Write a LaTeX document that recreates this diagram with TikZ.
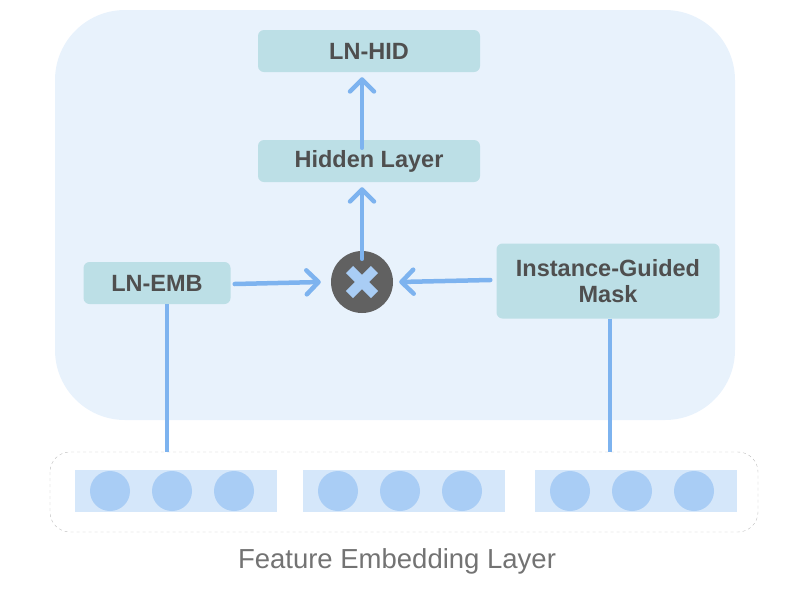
\documentclass[tikz,border=0pt]{standalone}
\usepackage{fontspec}
\setmainfont{Liberation Sans}
\usepackage{tikz}
\usetikzlibrary{shapes,arrows,arrows.meta}
\definecolor{bgblue}{HTML}{E8F2FC}
\definecolor{boxteal}{HTML}{BCDFE6}
\definecolor{linkblue}{HTML}{7DB3EF}
\definecolor{cellblue}{HTML}{D5E7FA}
\definecolor{dotblue}{HTML}{A9CDF5}
\definecolor{txtgray}{HTML}{4F4F4F}
\tikzstyle{layerbox} = [rectangle, rounded corners=6pt, fill=boxteal, text=txtgray, font=\fontsize{23.5}{26}\selectfont\bfseries, align=center, inner sep=0pt]
\tikzstyle{link} = [draw=linkblue, line width=4.5pt, line cap=round, -{Straight Barb[length=12pt,width=24pt,line width=4.5pt,round]}]
\tikzstyle{plainlink} = [draw=linkblue, line width=4.5pt]
\tikzstyle{cell} = [rectangle, fill=cellblue, minimum width=202pt, minimum height=42pt, inner sep=0pt]
\tikzstyle{dot} = [circle, fill=dotblue, minimum size=40pt, inner sep=0pt]
\begin{document}
\begin{tikzpicture}[x=1pt, y=-1pt]
\useasboundingbox (0,0) rectangle (788,590);
% background panel
\fill[bgblue, rounded corners=70pt] (55,10) rectangle (735,420);
% boxes of the block
\node [layerbox, minimum width=222pt, minimum height=42pt] (lnhid) at (369,51) {LN-HID};
\node [layerbox, minimum width=222pt, minimum height=42pt] (hidden) at (369,161) {Hidden Layer};
\node [layerbox, minimum width=147pt, minimum height=42pt] (lnemb) at (157,283) {LN-EMB};
\node [layerbox, minimum width=223pt, minimum height=75pt] (mask) at (608,281) {Instance-Guided\\Mask};
\node [circle, fill=black!62, minimum size=62pt, inner sep=0pt] (mult) at (362,282) {};
\draw[dotblue, line width=10pt] (mult.center) ++(-12.5,-12.5) -- ++(25,25);
\draw[dotblue, line width=10pt] (mult.center) ++(12.5,-12.5) -- ++(-25,25);
% embedding layer
\draw[gray!50, dashed, rounded corners=20pt] (50,452) rectangle (758,532);
\foreach \g/\gx in {a/176, b/404, c/636} {
  \node [cell] (cell\g) at (\gx,491) {};
  \foreach \i in {-1,0,1}
    \node [dot] at (\gx-4+\i*62,491) {};
}
\coordinate (embtop) at (167,452);
\coordinate (masktop) at (610,452);
\node [text=black!55, font=\fontsize{27.5}{30}\selectfont] (title) at (397,561) {Feature Embedding Layer};
% connectors
\draw[link] (lnemb.east) ++(4,1) -- ([xshift=-10pt]mult.west);
\draw[link] (mask.west) ++(-6,-1) -- ([xshift=6pt]mult.east);
\draw[link] ([yshift=-8pt]mult.north) -- ([yshift=-5pt]mult.north |- hidden.south);
\draw[link] ([yshift=-8pt]mult.north |- hidden.north) -- ([yshift=-5pt]mult.north |- lnhid.south);
\draw[plainlink] (lnemb.south -| embtop) -- (embtop);
\draw[plainlink] (mask.south -| masktop) -- (masktop);
\end{tikzpicture}
\end{document}
